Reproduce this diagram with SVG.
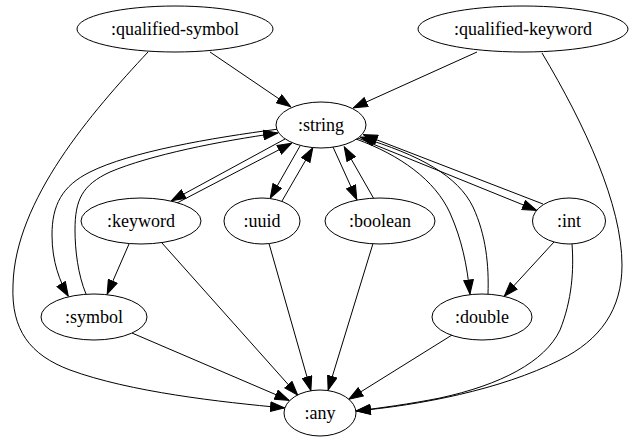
<svg xmlns="http://www.w3.org/2000/svg" width="632" height="443" viewBox="0 0 632 443">
<defs>
<marker id="arr" markerUnits="userSpaceOnUse" markerWidth="15" markerHeight="11" viewBox="0 0 14 10" refX="14" refY="5" orient="auto">
<path d="M0.5,0.5 L13.5,5 L0.5,9.5 Z" fill="#000" stroke="#000" stroke-width="1"/>
</marker>
</defs>
<style>
.node ellipse{fill:#fff;stroke:#000;stroke-width:1}
.node text{font-family:"Liberation Serif","Times New Roman",serif;font-size:18px;text-anchor:middle;fill:#000}
.edges path{fill:none;stroke:#000;stroke-width:1;marker-end:url(#arr)}
</style>
<rect width="632" height="443" fill="#fff"/>
<g class="edges" id="edges">
<path d="M210,52 L291,107"/>
<path d="M477,52 L353,108"/>
<path d="M148,52 C92,112 15,200 13,285 C11,330 30,355 70,370 C130,392 220,402 285,408"/>
<path d="M542,53 C585,125 622,205 622,265 C622,310 600,340 560,360 C500,390 420,405 356,411"/>
<path d="M285,139 L171,201"/>
<path d="M177,203 L292,143"/>
<path d="M300,146 L270,198.5"/>
<path d="M282,201 L313,147.5"/>
<path d="M333,147 L357,200"/>
<path d="M374,199 L344,146.5"/>
<path d="M358,138 L537,210.5"/>
<path d="M543,204 L363,134.5"/>
<path d="M356,139 C400,155 435,180 450,213 C462,240 467,265 470,294.5"/>
<path d="M488,294 C489,265 486,235 473,207 C458,176 420,155 360,137"/>
<path d="M279,129 C210,138 130,152 90,172 C62,186 52,205 52,235 C52,262 60,282 68.5,296.5"/>
<path d="M86,294 C78,275 75,250 75,230 C75,200 82,185 110,172 C150,155 220,141 278,133"/>
<path d="M129,244 L107,294.5"/>
<path d="M162,243 L298,395.5"/>
<path d="M269,243.5 L311,391"/>
<path d="M373,243.5 L328,390.5"/>
<path d="M554,242 L504,296.5"/>
<path d="M572,244 C574,270 572,300 560,330 C545,362 500,385 440,398 C410,404 380,408 356,411"/>
<path d="M132,333 L289.5,400.5"/>
<path d="M452,335 L348.5,399.5"/>
</g>
<g class="node" id="qualified-symbol"><ellipse cx="175" cy="29" rx="98" ry="23"/><text x="175" y="35">:qualified-symbol</text></g>
<g class="node" id="qualified-keyword"><ellipse cx="523" cy="29" rx="105" ry="23"/><text x="523" y="35">:qualified-keyword</text></g>
<g class="node" id="string"><ellipse cx="321" cy="125" rx="45" ry="23"/><text x="321" y="131">:string</text></g>
<g class="node" id="keyword"><ellipse cx="141" cy="221" rx="60" ry="23"/><text x="141" y="227">:keyword</text></g>
<g class="node" id="uuid"><ellipse cx="262" cy="221" rx="38" ry="23"/><text x="262" y="227">:uuid</text></g>
<g class="node" id="boolean"><ellipse cx="380" cy="221" rx="55" ry="23"/><text x="380" y="227">:boolean</text></g>
<g class="node" id="int"><ellipse cx="569" cy="221" rx="36.5" ry="23"/><text x="569" y="227">:int</text></g>
<g class="node" id="symbol"><ellipse cx="94" cy="317" rx="53" ry="23"/><text x="94" y="323">:symbol</text></g>
<g class="node" id="double"><ellipse cx="482" cy="317" rx="50" ry="23"/><text x="482" y="323">:double</text></g>
<g class="node" id="any"><ellipse cx="320" cy="413" rx="36" ry="23"/><text x="320" y="419">:any</text></g>
</svg>
